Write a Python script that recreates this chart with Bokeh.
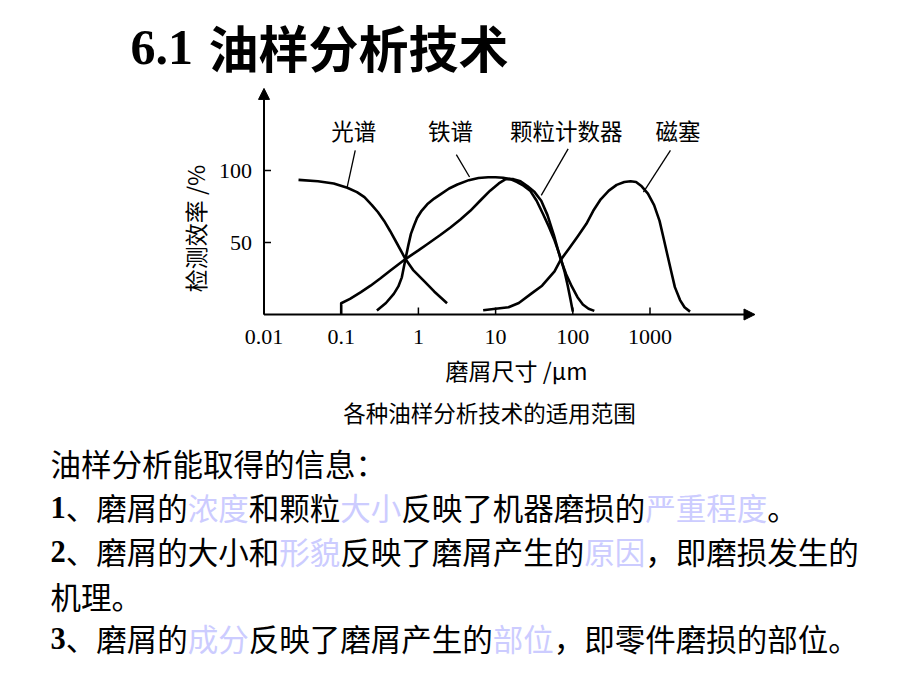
import math
from bokeh.plotting import figure
from bokeh.models import Range1d, Arrow, NormalHead, LogScale, LinearScale
from bokeh.embed import file_html
from bokeh.resources import INLINE
from bokeh.core.properties import value

# ---------------- data ----------------
TITLE_NUM = "6.1"
TITLE_TEXT = "油样分析技术"

# 光谱 (spectrometric)
SPEC_X = [0.028, 0.05, 0.08, 0.12, 0.16, 0.2, 0.25, 0.3, 0.36, 0.43, 0.52, 0.68, 0.85, 1.17, 1.6, 2.35]
SPEC_Y = [93.5, 92.5, 91, 88, 85, 81.5, 76, 71, 65, 58, 50, 38.5, 31, 23.5, 16, 7.8]

# 铁谱 (ferrography)
FERRO_X = [0.29, 0.38, 0.48, 0.55, 0.61, 0.68, 0.74, 0.8, 0.88, 0.96, 1.1, 1.3, 1.6, 1.93, 2.5, 3.2,
           4.5, 6, 8, 10, 12.5, 15.5, 19, 23, 28, 34, 41, 49, 58, 69, 78, 86, 93, 100]
FERRO_Y = [2.8, 8, 14.3, 19.5, 25.8, 38.5, 48, 56, 62, 67, 72, 76.5, 80.5, 83.4, 87.5, 90.3,
           93.3, 94.8, 95.3, 95.3, 95, 94, 92, 89.5, 86, 79, 70, 61, 51.5, 40, 30, 20, 11, 2]

# 颗粒计数器 (particle counter)
COUNT_X = [0.1, 0.1, 0.13, 0.18, 0.24, 0.32, 0.43, 0.68, 1.0, 1.3, 1.9, 2.6, 3.5, 4.7, 6.3, 8.5, 11,
           13.5, 17, 21, 26, 32, 39, 47, 57, 69, 82, 97, 115, 135, 160, 190]
COUNT_Y = [0, 7.8, 10.8, 15.5, 20, 25, 30.4, 38.5, 44.5, 48.8, 55, 60.4, 66, 72, 79, 86, 91,
           94, 94, 92.5, 89, 85, 79, 69, 55, 39, 28, 19.5, 12, 7, 4, 2.5]

# 磁塞 (magnetic plug)
PLUG_X = [6.9, 10, 14.7, 20, 29, 40, 58, 69, 90, 115, 150, 184, 230, 293, 370, 465, 560, 660,
          780, 940, 1130, 1330, 1500, 1670, 1880, 2100, 2450, 2800, 3300]
PLUG_Y = [3, 4, 5, 8, 14.5, 20, 30, 37.6, 46, 54, 63, 72, 80, 86, 90, 92, 92.5, 92,
          89, 84, 76, 65, 53, 42, 30, 19, 10, 5, 2]

CURVE_NAMES = ["光谱", "铁谱", "颗粒计数器", "磁塞"]
NAME_X = [0.145, 2.6, 82, 2300]
NAME_Y = [128, 128, 128, 128]
LEADER_X0 = [0.152, 3.1, 87, 1840]
LEADER_Y0 = [114, 111, 115, 114]
LEADER_X1 = [0.119, 4.6, 39, 822]
LEADER_Y1 = [88, 95.5, 82.7, 85]

X_TICKS = [0.01, 0.1, 1, 10, 100, 1000]
X_TICK_LABELS = ["0.01", "0.1", "1", "10", "100", "1000"]
Y_TICKS = [50, 100]
Y_TICK_LABELS = ["50", "100"]
X_MIN, X_TIP = 0.01, 10 ** 4.36
Y_MIN, Y_TIP = 0, 157
X_TITLE = "磨屑尺寸 /μm"
Y_TITLE = "检测效率 /%"

CAPTION = "各种油样分析技术的适用范围"
# (text, kind): kind "n" = number, "t" = normal text, "h" = highlighted text
BODY = [
    [("油样分析能取得的信息：", "t")],
    [("1", "n"), ("、磨屑的", "t"), ("浓度", "h"), ("和颗粒", "t"), ("大小", "h"),
     ("反映了机器磨损的", "t"), ("严重程度", "h"), ("。", "t")],
    [("2", "n"), ("、磨屑的大小和", "t"), ("形貌", "h"), ("反映了磨屑产生的", "t"),
     ("原因", "h"), ("，即磨损发生的", "t")],
    [("机理。", "t")],
    [("3", "n"), ("、磨屑的", "t"), ("成分", "h"), ("反映了磨屑产生的", "t"),
     ("部位", "h"), ("，即零件磨损的部位。", "t")],
]

# ---------------- layout constants ----------------
CJK = "Noto Sans CJK SC"
SERIF = "Liberation Serif"
W, H = 920, 690
HL_COLOR = "#CCCCFF"

# chart placement on the page (pixels)
AX_X0 = 263.5      # page x of 0.01
DEC_PX = 77.2      # pixels per decade
AX_Y0 = 314.0      # page y of 0 %
PCT_PX = 1.44      # pixels per percent

log_start = 10 ** (-2 - AX_X0 / DEC_PX)
log_end = 10 ** (-2 + (W - AX_X0) / DEC_PX)
pct_start = -(H - AX_Y0) / PCT_PX
pct_end = AX_Y0 / PCT_PX

p = figure(width=W, height=H, x_range=Range1d(0, W), y_range=Range1d(H, 0),
           output_backend="svg", toolbar_location=None,
           x_axis_location=None, y_axis_location=None, min_border=0)
p.grid.visible = False
p.outline_line_color = None
p.background_fill_color = "white"
p.border_fill_color = "white"
p.extra_x_ranges = {"log": Range1d(log_start, log_end)}
p.extra_x_scales = {"log": LogScale()}
p.extra_y_ranges = {"pct": Range1d(pct_start, pct_end)}
p.extra_y_scales = {"pct": LinearScale()}
C = dict(x_range_name="log", y_range_name="pct")

# ---------------- title ----------------
p.text(x=[130], y=[47], text=[TITLE_NUM], text_font=value(SERIF), text_font_style="bold",
       text_font_size="50px", text_baseline="middle", text_align="left", text_color="black")
p.text(x=[208], y=[45], text=[TITLE_TEXT], text_font=value(CJK), text_font_style="bold",
       text_font_size="50px", text_baseline="middle", text_align="left", text_color="black")

# ---------------- chart: axes ----------------
tick_len = 7 / PCT_PX
p.segment(x0=X_TICKS, y0=[0] * len(X_TICKS), x1=X_TICKS, y1=[tick_len] * len(X_TICKS),
          line_color="black", line_width=1.5, **C)
ytick_end = X_MIN * 10 ** (7 / DEC_PX)
p.segment(x0=[X_MIN] * len(Y_TICKS), y0=Y_TICKS, x1=[ytick_end] * len(Y_TICKS), y1=Y_TICKS,
          line_color="black", line_width=1.5, **C)
p.add_layout(Arrow(end=NormalHead(size=11, fill_color="black", line_color="black"),
                   x_start=X_MIN, y_start=0, x_end=X_TIP, y_end=0,
                   line_width=2, line_color="black", **C))
p.add_layout(Arrow(end=NormalHead(size=11, fill_color="black", line_color="black"),
                   x_start=X_MIN, y_start=0, x_end=X_MIN, y_end=Y_TIP,
                   line_width=2, line_color="black", **C))

p.text(x=X_TICKS, y=[-22 / PCT_PX] * len(X_TICKS), text=X_TICK_LABELS,
       text_font=value(SERIF), text_font_size="22px", text_align="center",
       text_baseline="middle", text_color="black", **C)
ylab_x = X_MIN * 10 ** (-12 / DEC_PX)
p.text(x=[ylab_x] * len(Y_TICKS), y=Y_TICKS, text=Y_TICK_LABELS,
       text_font=value(SERIF), text_font_size="22px", text_align="right",
       text_baseline="middle", text_color="black", **C)

p.text(x=[516], y=[369], text=[X_TITLE], text_font=value(CJK), text_font_size="23px",
       text_align="center", text_baseline="middle", text_color="black")
p.text(x=[194], y=[228], text=[Y_TITLE], text_font=value(CJK), text_font_size="23px",
       text_align="center", text_baseline="middle", text_color="black", angle=math.pi / 2)

# ---------------- chart: curves ----------------
for xs, ys in ((SPEC_X, SPEC_Y), (FERRO_X, FERRO_Y), (COUNT_X, COUNT_Y), (PLUG_X, PLUG_Y)):
    p.line(xs, ys, line_color="black", line_width=2.6, line_join="round", **C)

p.segment(x0=LEADER_X0, y0=LEADER_Y0, x1=LEADER_X1, y1=LEADER_Y1,
          line_color="black", line_width=1.3, **C)
p.text(x=NAME_X, y=NAME_Y, text=CURVE_NAMES, text_font=value(CJK), text_font_size="22.5px",
       text_align="center", text_baseline="middle", text_color="black", **C)

# ---------------- caption & body ----------------
p.text(x=[489], y=[411], text=[CAPTION], text_font=value(CJK),
       text_font_size="22.5px", text_align="center", text_baseline="middle",
       text_color="black")

FS = 30.5
LINE_Y = [462, 506, 550, 595, 637]
num_x, num_y, num_t = [], [], []
txt_x, txt_y, txt_t, txt_c = [], [], [], []
for line, ly in zip(BODY, LINE_Y):
    x = 50
    for seg, kind in line:
        if kind == "n":
            num_x.append(x); num_y.append(ly + 1); num_t.append(seg)
            x += 0.5 * FS * len(seg)
        else:
            txt_x.append(x); txt_y.append(ly); txt_t.append(seg)
            txt_c.append(HL_COLOR if kind == "h" else "black")
            x += FS * len(seg)

p.text(x=num_x, y=num_y, text=num_t, text_font=value(SERIF),
       text_font_style="bold", text_font_size=f"{FS}px", text_align="left",
       text_baseline="middle", text_color="black")
p.text(x=txt_x, y=txt_y, text=txt_t, text_color=txt_c, text_font=value(CJK),
       text_font_size=f"{FS}px", text_align="left", text_baseline="middle")

open("out.html", "w").write(file_html(p, INLINE))
